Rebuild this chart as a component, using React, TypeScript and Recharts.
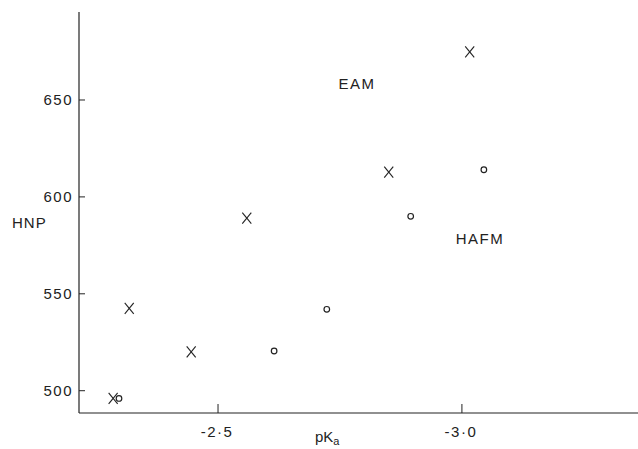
import React from 'react';
import { ScatterChart, Scatter, XAxis, YAxis, ReferenceDot } from 'recharts';

// EAM series (crosses)
const eamPka = [-2.285, -2.318, -2.445, -2.559, -2.85, -3.016];
const eamHnp = [496, 542.5, 520, 589, 612.8, 674.8];

// HAFM series (open circles)
const hafmPka = [-2.297, -2.615, -2.723, -2.895, -3.045];
const hafmHnp = [496, 520.5, 542, 590, 614];

const xTicks = [-2.5, -3.0];
const yTicks = [500, 550, 600, 650];
const xTickLabels = ['-2·5', '-3·0'];

const eamData = eamPka.map((x, i) => ({ x, y: eamHnp[i] }));
const hafmData = hafmPka.map((x, i) => ({ x, y: hafmHnp[i] }));

const font = '"Liberation Sans", Arial, sans-serif';
const ink = '#222';

const Cross = (props: any) => {
  const { cx, cy } = props;
  return (
    <g stroke={ink} strokeWidth={1.1}>
      <line x1={cx - 4.5} y1={cy - 5.5} x2={cx + 4.5} y2={cy + 5.5} />
      <line x1={cx + 4.5} y1={cy - 5.5} x2={cx - 4.5} y2={cy + 5.5} />
    </g>
  );
};

const Ring = (props: any) => {
  const { cx, cy } = props;
  return <circle cx={cx} cy={cy} r={2.8} fill="none" stroke={ink} strokeWidth={1.2} />;
};

const YTick = (props: any) => {
  const { x, y, payload } = props;
  return (
    <g>
      <line x1={x} y1={y} x2={x + 6} y2={y} stroke={ink} strokeWidth={1} />
      <text x={x - 6} y={y + 5} textAnchor="end" fontSize={15} letterSpacing={1.5} fill={ink} fontFamily={font}>
        {payload.value}
      </text>
    </g>
  );
};

const XTick = (props: any) => {
  const { x, y, payload, index } = props;
  return (
    <g>
      <line x1={x} y1={y} x2={x} y2={y - 9} stroke={ink} strokeWidth={1} />
      <text x={x - 1} y={y + 24} textAnchor="middle" fontSize={15} letterSpacing={1.5} fill={ink} fontFamily={font}>
        {xTickLabels[index] ?? payload.value}
      </text>
    </g>
  );
};

const YLabel = (props: any) => {
  const { viewBox } = props;
  return (
    <text x={viewBox.x + 12} y={viewBox.y + 216} fontSize={15} letterSpacing={1} fill={ink} fontFamily={font}>
      HNP
    </text>
  );
};

const XLabel = (props: any) => {
  const { viewBox } = props;
  return (
    <text x={viewBox.x + 236} y={viewBox.y + 29} fontSize={15} fill={ink} fontFamily={font}>
      pK
      <tspan fontSize={11} dy={3}>a</tspan>
    </text>
  );
};

const textLabel = (value: string) => (props: any) => {
  const { viewBox } = props;
  return (
    <text x={viewBox.x} y={viewBox.y + 5} textAnchor="middle" fontSize={15} letterSpacing={1.5} fill={ink} fontFamily={font}>
      {value}
    </text>
  );
};

export default function App() {
  return (
    <div style={{ position: 'absolute', left: 0, top: 0, background: '#fff' }}>
      <ScatterChart width={638} height={449} margin={{ top: 12, right: 0, bottom: 0, left: 0 }}>
        <XAxis
          type="number"
          dataKey="x"
          domain={[-3.361, -2.215]}
          reversed
          ticks={xTicks}
          height={36}
          tickSize={0}
          tickMargin={0}
          tickLine={false}
          tick={<XTick />}
          axisLine={{ stroke: ink, strokeWidth: 1.2 }}
          allowDataOverflow
          label={<XLabel />}
        />
        <YAxis
          type="number"
          dataKey="y"
          domain={[488.5, 695.4]}
          ticks={yTicks}
          width={79}
          tickSize={0}
          tickMargin={0}
          tickLine={false}
          tick={<YTick />}
          axisLine={{ stroke: ink, strokeWidth: 1.2 }}
          allowDataOverflow
          label={<YLabel />}
        />
        <Scatter data={eamData} shape={<Cross />} isAnimationActive={false} />
        <Scatter data={hafmData} shape={<Ring />} isAnimationActive={false} />
        <ReferenceDot x={-2.785} y={658.3} r={0} fill="none" stroke="none" label={textLabel('EAM')} />
        <ReferenceDot x={-3.037} y={578.3} r={0} fill="none" stroke="none" label={textLabel('HAFM')} />
      </ScatterChart>
    </div>
  );
}
